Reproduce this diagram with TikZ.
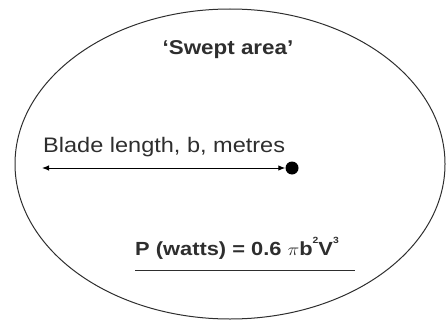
\documentclass[tikz,border=0pt]{standalone}
\usepackage{fontspec}
\setmainfont{Liberation Sans}
\usetikzlibrary{arrows.meta}
\definecolor{ink}{HTML}{2E2E2E}
\newcommand{\smallsup}[1]{\raisebox{0.62em}{\fontsize{9}{9}\selectfont #1}}
\begin{document}
\begin{tikzpicture}[x=1pt,y=1pt,
  lbl/.style={text=ink, inner sep=0pt},
  arr/.style={line width=1pt, {Latex[length=7pt,width=5.5pt]}-{Latex[length=7pt,width=5.5pt]}}]
\useasboundingbox (0,0) rectangle (446,322);
\draw[line width=1pt, ink] (230,158) ellipse [x radius=215, y radius=155];
\node[lbl, font=\fontsize{20}{22}\selectfont\bfseries, xscale=1.12] (title) at (228,272) {‘Swept area’};
\node[lbl, font=\fontsize{21}{23}\selectfont, anchor=base west, xscale=1.12] (blade) at (43,170) {Blade length, b, metres};
\coordinate (left) at (42,154);
\fill (292,154) circle (6.5) coordinate (hub);
\node[inner sep=0pt, minimum size=13pt, circle] (dot) at (292,154) {};
\draw[arr] (left) -- (dot.west);
\node[lbl, font=\fontsize{19}{21}\selectfont\bfseries, anchor=base west, xscale=1.15] (formula) at (135,67) {P (watts) = 0.6 \ensuremath{\pi}b\smallsup{2}V\smallsup{3}};
\draw[line width=1pt, ink] (135,52) -- (355,52);
\end{tikzpicture}
\end{document}
